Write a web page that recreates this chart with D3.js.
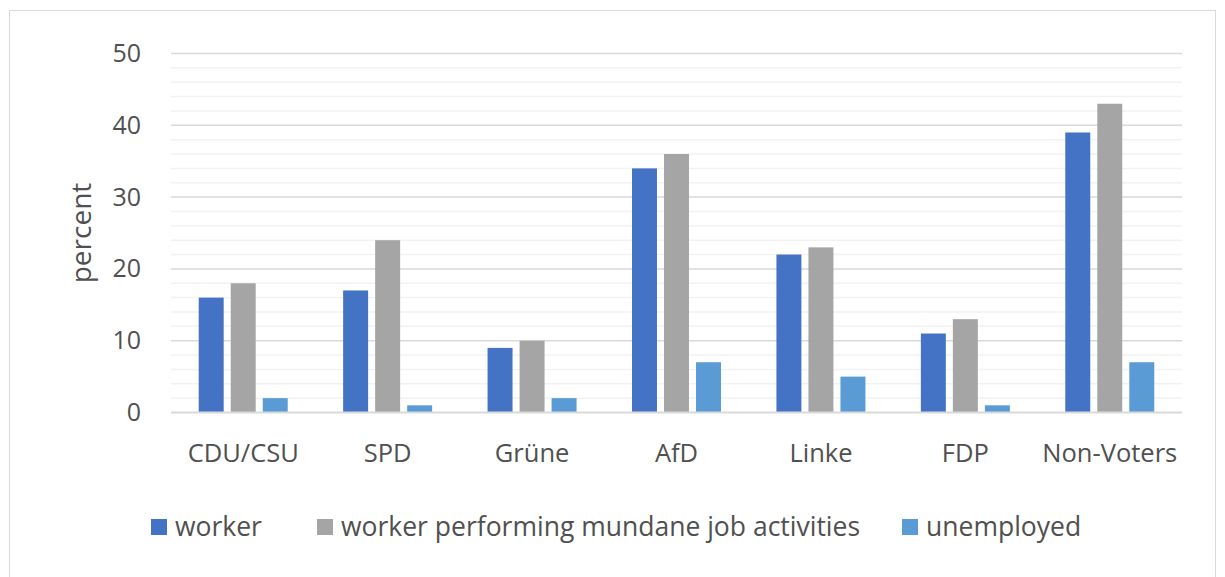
<!DOCTYPE html>
<html>
<head>
<meta charset="utf-8">
<script src="https://cdn.jsdelivr.net/npm/d3@7"></script>
<style>
  body { margin: 0; background: #fff; }
  text { font-family: "Open Sans", "Noto Sans", sans-serif; fill: #505050; }
</style>
</head>
<body>
<div id="chart"></div>
<script>
const categories = ['CDU/CSU', 'SPD', 'Grüne', 'AfD', 'Linke', 'FDP', 'Non-Voters'];
const seriesNames = ['worker', 'worker performing mundane job activities', 'unemployed'];
const worker = [16, 17, 9, 34, 22, 11, 39];
const mundane = [18, 24, 10, 36, 23, 13, 43];
const unemployed = [2, 1, 2, 7, 5, 1, 7];
const yTicks = [0, 10, 20, 30, 40, 50];
const minorTicks = d3.range(0, 51, 2);

const colors = ['#4472c4', '#a5a5a5', '#5b9bd5'];
const series = [worker, mundane, unemployed];

const width = 1225;
const height = 577;
const plot = { left: 171, right: 1182, top: 53.5, bottom: 412.5 };

const svg = d3.select('#chart')
  .append('svg')
  .attr('width', width)
  .attr('height', height);

// outer frame
svg.append('rect')
  .attr('x', 9.5).attr('y', 10.5)
  .attr('width', 1206).attr('height', 580)
  .attr('fill', 'none')
  .attr('stroke', '#d9d9d9');

const x = d3.scaleBand()
  .domain(categories)
  .range([plot.left, plot.right]);

const y = d3.scaleLinear()
  .domain([0, 50])
  .range([plot.bottom, plot.top]);

const xInner = d3.scaleBand()
  .domain(d3.range(series.length))
  .range([0, 89])
  .paddingInner(0.22);

// minor grid
svg.append('g')
  .selectAll('line')
  .data(minorTicks.filter(d => d % 10 !== 0))
  .join('line')
  .attr('x1', plot.left).attr('x2', plot.right)
  .attr('y1', d => y(d)).attr('y2', d => y(d))
  .attr('stroke', '#f2f2f2')
  .attr('stroke-width', 1.5);

// major grid
svg.append('g')
  .selectAll('line')
  .data(yTicks.filter(d => d !== 0))
  .join('line')
  .attr('x1', plot.left).attr('x2', plot.right)
  .attr('y1', d => y(d)).attr('y2', d => y(d))
  .attr('stroke', '#d9d9d9')
  .attr('stroke-width', 1.5);

// bars
const groups = svg.append('g')
  .selectAll('g')
  .data(categories)
  .join('g')
  .attr('transform', d => `translate(${x(d) + x.bandwidth() / 2 - 44.5},0)`);

groups.selectAll('rect')
  .data((c, ci) => series.map((s, si) => ({ si, v: s[ci] })))
  .join('rect')
  .attr('x', d => xInner(d.si))
  .attr('width', xInner.bandwidth())
  .attr('y', d => y(d.v))
  .attr('height', d => y(0) - y(d.v))
  .attr('fill', d => colors[d.si]);

// baseline
svg.append('line')
  .attr('x1', plot.left).attr('x2', plot.right)
  .attr('y1', y(0)).attr('y2', y(0))
  .attr('stroke', '#d9d9d9')
  .attr('stroke-width', 2);

// y axis labels
const yAxis = d3.axisLeft(y)
  .tickValues(yTicks)
  .tickSize(0)
  .tickPadding(0);
svg.append('g')
  .attr('transform', `translate(141,0)`)
  .call(yAxis)
  .call(g => g.select('.domain').remove())
  .selectAll('text')
  .style('font-size', '25px')
  .attr('fill', '#505050');

// x axis labels
const xAxis = d3.axisBottom(x).tickSize(0).tickPadding(0);
svg.append('g')
  .attr('transform', `translate(0,${plot.bottom})`)
  .call(xAxis)
  .call(g => g.select('.domain').remove())
  .selectAll('text')
  .attr('dy', null)
  .attr('y', 49)
  .style('font-size', '25.5px')
  .attr('fill', '#505050');

// y title
svg.append('text')
  .attr('transform', 'translate(91,233) rotate(-90)')
  .attr('text-anchor', 'middle')
  .style('font-size', '28px')
  .text('percent');

// legend
const legendX = [151, 317, 902];
const legend = svg.append('g')
  .selectAll('g')
  .data(seriesNames)
  .join('g')
  .attr('transform', (d, i) => `translate(${legendX[i]},519)`);
legend.append('rect')
  .attr('width', 16).attr('height', 16)
  .attr('fill', (d, i) => colors[i]);
legend.append('text')
  .attr('x', 24)
  .attr('y', 17)
  .style('font-size', '26.5px')
  .text(d => d);
</script>
</body>
</html>
